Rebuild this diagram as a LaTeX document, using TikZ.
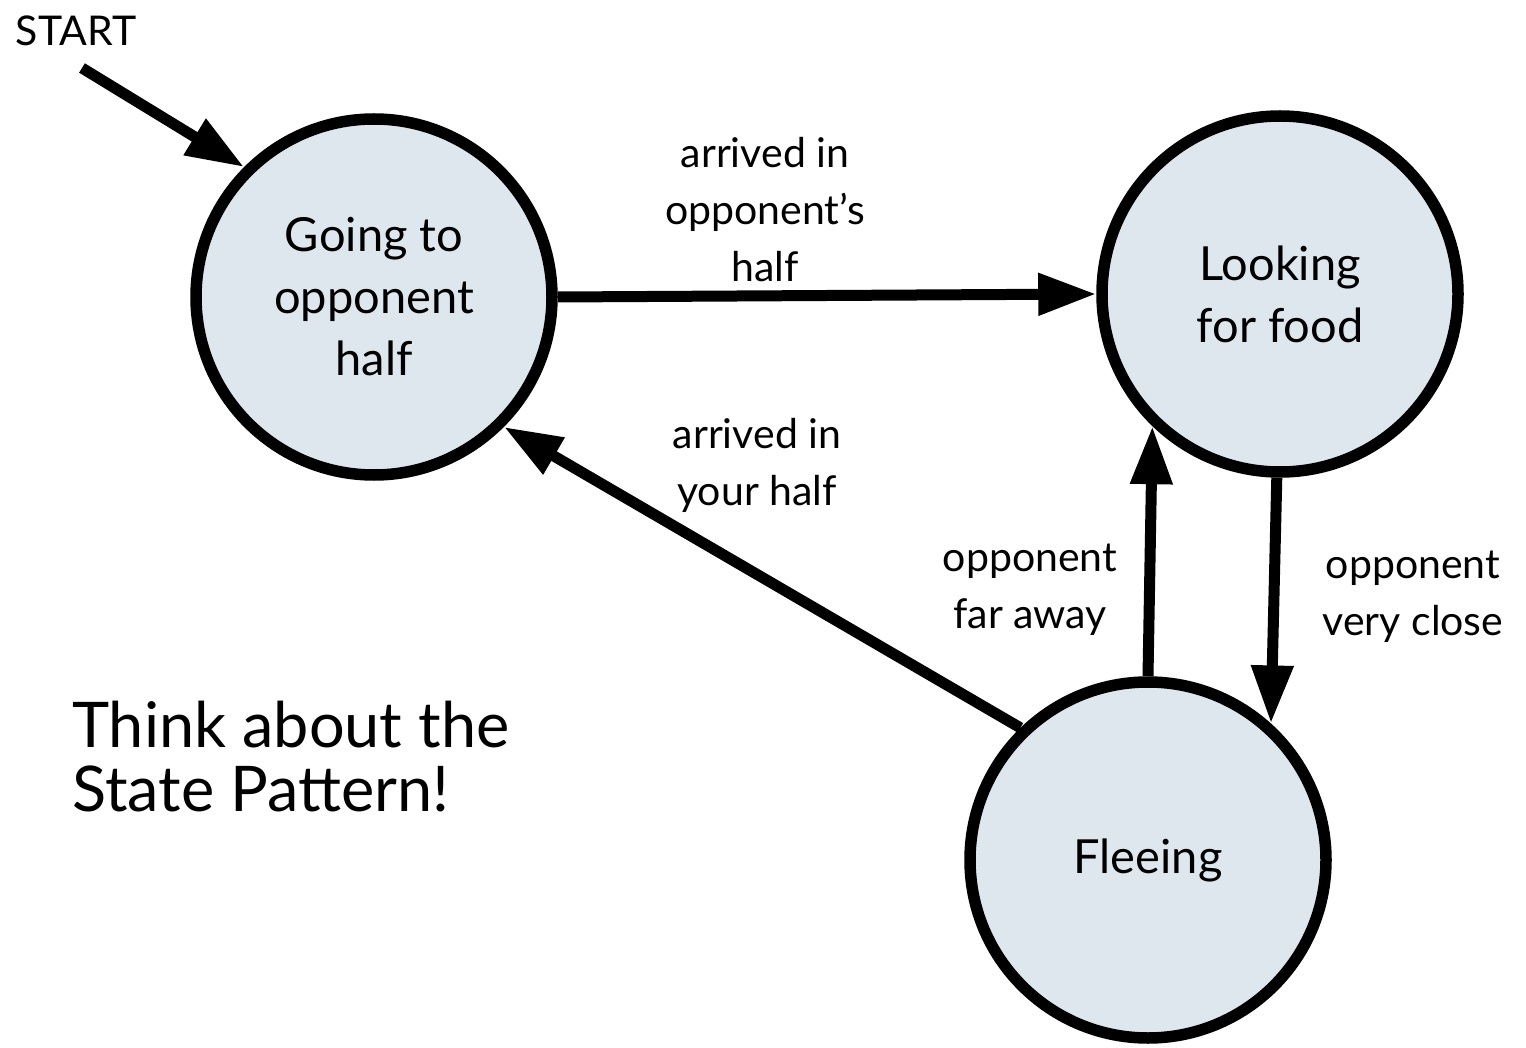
\documentclass[tikz,border=0pt]{standalone}
\usepackage{fontspec}
\setmainfont{Lato}
\usetikzlibrary{arrows.meta}
\definecolor{statefill}{HTML}{DFE7EE}
\begin{document}
\begin{tikzpicture}[x=1pt,y=-1pt,
  state/.style={circle, draw=black, line width=11.5pt, fill=statefill,
    minimum size=356pt, inner sep=0pt, align=center,
    font=\fontsize{47}{62}\selectfont},
  trans/.style={line width=11pt, -{Triangle[length=58pt,width=40pt]}},
  lbl/.style={align=center, font=\fontsize{41}{57}\selectfont}]
\useasboundingbox[fill=white] (0,0) rectangle (1526,1048);

\node[state] (g) at (374,297) {Going to\\opponent\\half};
\node[state] (l) at (1280,294) {Looking\\for food};
\node[state] (f) at (1148,860) {Fleeing};

\node[font=\fontsize{41}{48}\selectfont] (start) at (76,31) {START};
\coordinate (s0) at (82,68);
\draw[trans] (s0) -- (g.135);

\draw[trans] (g.east) -- (l.west);
\draw[trans] (f.134) -- (g.-45);
\draw[trans] (f.90) -- (l.226);
\draw[trans] (l.-91) -- (f.48);

\node[lbl] (l1) at (765,210) {arrived in\\opponent’s\\half};
\node[lbl] (l2) at (757,465) {arrived in\\your half};
\node[lbl] (l3) at (1030,590) {opponent\\far away};
\node[lbl] (l4) at (1413,597) {opponent\\very close};

\node[align=left, anchor=west, inner sep=0pt, font=\fontsize{63}{64}\selectfont] (think) at (72,757) {Think about the\\State Pattern!};
\end{tikzpicture}
\end{document}
